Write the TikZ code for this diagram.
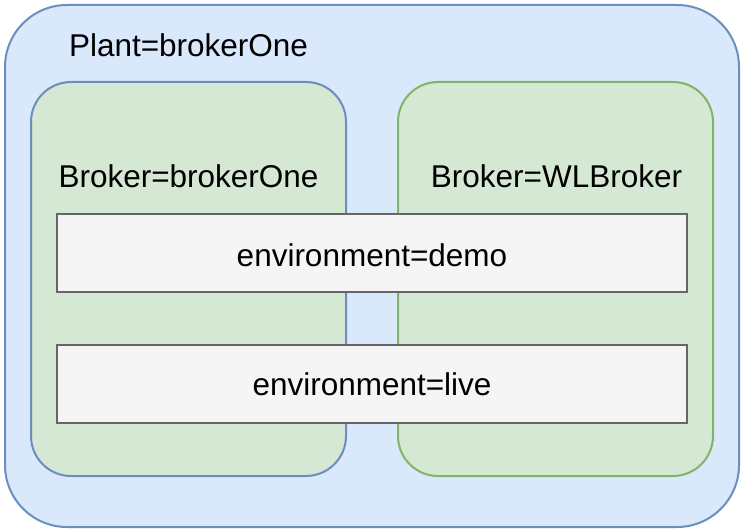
\documentclass[tikz,border=0pt]{standalone}
\usepackage{fontspec}
\setmainfont{Liberation Sans}
\definecolor{bluefill}{HTML}{DAE8FC}
\definecolor{blueline}{HTML}{6C8EBF}
\definecolor{greenfill}{HTML}{D5E8D4}
\definecolor{greenline}{HTML}{82B366}
\definecolor{grayfill}{HTML}{F5F5F5}
\definecolor{grayline}{HTML}{666666}
\begin{document}
\begin{tikzpicture}[x=1pt,y=-1pt,
  every node/.style={font=\fontsize{31.5}{38}\selectfont, inner sep=0pt, outer sep=0pt},
  outerbox/.style={draw=blueline, fill=bluefill, line width=2pt, rounded corners=62pt},
  brokerbox/.style={fill=greenfill, line width=2pt, rounded corners=40pt},
  envbox/.style={draw=grayline, fill=grayfill, line width=2pt}]
\useasboundingbox (0,0) rectangle (744,532);
\node[outerbox, minimum width=734pt, minimum height=522pt] (plant) at (372,266) {};
\node[brokerbox, draw=blueline, minimum width=315pt, minimum height=394pt] (b1) at (188.5,279) {};
\node[brokerbox, draw=greenline, minimum width=315pt, minimum height=394pt] (b2) at (555.5,279) {};
\node[envbox, minimum width=630pt, minimum height=78pt] (demo) at (372,253) {};
\node[envbox, minimum width=630pt, minimum height=78pt] (live) at (372,384) {};
\node (demolbl) at (372,255) {environment=demo};
\node (livelbl) at (372,384) {environment=live};
\node[anchor=west] (plantlbl) at (69,45) {Plant=brokerOne};
\node (b1lbl) at (188.5,176) {Broker=brokerOne};
\node (b2lbl) at (556.5,176) {Broker=WLBroker};
\end{tikzpicture}
\end{document}
